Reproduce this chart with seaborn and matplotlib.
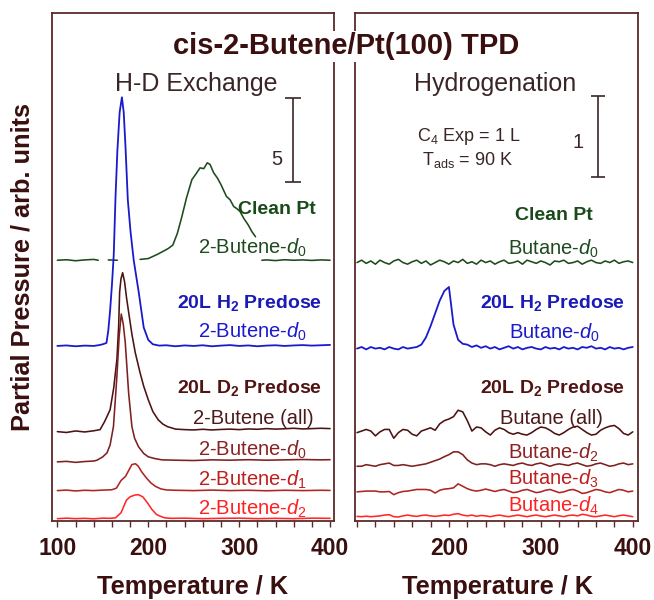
import numpy as np
import pandas as pd
import matplotlib
matplotlib.use("Agg")
import matplotlib.pyplot as plt
import seaborn as sns

# ---------------------------------------------------------------- data
# Left panel: H-D exchange (2-butene desorption), arb. units (scale bar = 5)
T_GREEN_L = [100, 110, 120, 130, 140, 145, 147, 156, 166, 168, 191, 200, 210, 217, 222,
             227, 232, 237, 242, 248, 252, 257, 261, 265, 268, 272, 276, 280, 286, 290,
             294, 298, 301, 305, 310, 314, 318, 321, 325, 330, 340, 350, 360, 370, 380,
             390, 400]
S_GREEN_L = [0.0, 0.03, -0.03, 0.02, 0.05, 0.0, np.nan, 0.02, 0.0, np.nan, 0.05, 0.1, 0.35, 0.55, 0.7,
             0.9, 1.6, 2.6, 3.7, 4.8, 5.1, 5.5, 5.45, 5.8, 5.7, 5.2, 4.9, 4.5, 3.8, 3.6,
             3.2, 3.05, 2.9, 2.5, 2.1, 1.7, 1.4, np.nan, 0.0, 0.02, -0.02, 0.03, 0.0, 0.02, -0.01,
             0.02, 0.0]

T_BLUE_L = [100, 110, 120, 130, 140, 146, 150, 154, 156, 158, 160, 162, 164, 166, 168.5,
            171, 173, 175, 177.5, 180.5, 184, 189.5, 195, 200, 205, 212, 220, 230, 240, 250,
            260, 270, 280, 290, 300, 310, 320, 330, 340, 350, 360, 370, 380, 390, 400]
S_BLUE_L = [0.0, 0.03, -0.02, 0.02, 0.0, 0.05, 0.1, 0.18, 0.9, 2.1, 3.6, 5.4, 8.9, 11.6, 13.9,
            14.8, 13.9, 11.8, 8.7, 6.8, 5.1, 3.2, 1.1, 0.36, 0.1, 0.02, 0.04, -0.02, 0.03, 0.0,
            0.04, -0.02, 0.02, 0.05, 0.0, 0.03, -0.02, 0.02, 0.04, 0.0, 0.03, 0.05, 0.02, 0.04, 0.06]

T_ALL_L = [100, 110, 120, 130, 140, 147, 152, 158, 162, 165.5, 167.4, 168.5, 170, 171.8, 174,
           176, 178, 182, 185.7, 191, 195, 200, 205, 211, 216, 221, 230, 240, 250, 260,
           270, 280, 290, 300, 310, 320, 330, 340, 350, 360, 370, 380, 390, 400]
S_ALL_L = [0.0, -0.05, 0.04, -0.02, 0.05, 0.12, 0.6, 1.3, 2.6, 4.3, 6.25, 8.3, 9.1, 9.46, 8.9,
           8.0, 7.26, 5.8, 4.7, 3.5, 2.7, 1.9, 1.2, 0.7, 0.45, 0.3, 0.15, 0.12, 0.1, 0.14,
           0.1, 0.13, 0.15, 0.12, 0.16, 0.14, 0.18, 0.15, 0.17, 0.2, 0.16, 0.18, 0.2, 0.18]

T_D0_L = [100, 110, 120, 130, 140, 143.6, 150, 154.6, 158, 161.7, 163.5, 165.5, 168, 170.3, 172.5,
          174.7, 178.4, 182, 185, 189.3, 195, 200, 207, 215, 230, 250, 270, 290, 310, 330,
          350, 370, 390, 400]
S_D0_L = [0.0, 0.03, -0.03, 0.02, 0.05, 0.1, 0.3, 0.54, 1.0, 2.1, 3.5, 5.1, 7.5, 8.8, 8.2,
          7.1, 4.1, 2.1, 1.4, 0.9, 0.5, 0.3, 0.2, 0.12, 0.1, 0.08, 0.12, 0.1, 0.13, 0.1,
          0.12, 0.14, 0.12, 0.13]

T_D1_L = [100, 110, 120, 130, 140, 150, 160, 165, 170, 175, 180, 182, 186, 189, 193,
          198, 203, 208, 214, 220, 230, 250, 270, 290, 310, 330, 350, 370, 390, 400]
S_D1_L = [0.0, 0.03, -0.02, 0.02, 0.0, 0.03, 0.05, 0.15, 0.6, 0.85, 1.35, 1.55, 1.6, 1.45, 1.1,
          0.75, 0.45, 0.25, 0.1, 0.04, 0.02, 0.0, 0.03, 0.0, 0.02, -0.01, 0.02, 0.0, 0.02, 0.01]

T_D2_L = [100, 110, 120, 130, 140, 150, 158, 164, 170, 176, 180, 185, 189, 194, 199,
          204, 209, 213, 218, 225, 240, 260, 280, 300, 320, 340, 360, 380, 400]
S_D2_L = [0.0, 0.03, 0.0, 0.02, -0.01, 0.03, 0.02, 0.05, 0.35, 1.1, 1.3, 1.4, 1.43, 1.3, 0.95,
          0.55, 0.25, 0.15, 0.05, 0.02, 0.03, 0.0, 0.02, 0.03, 0.0, 0.02, 0.0, 0.03, 0.02]

OFFSETS_L = [15.5, 10.4, 5.3, 3.5, 1.79, 0.12]   # green, blue, all, d0, d1, d2

# Right panel: hydrogenation (butane desorption), arb. units (scale bar = 1)
T_R = np.arange(100, 401, 5)
S_GREEN_R = [0.0, 0.03, -0.01, 0.02, -0.02, 0.03, 0.0, -0.02, 0.02, 0.04,
             0.0, -0.02, 0.01, 0.03, -0.01, 0.02, -0.03, 0.0, 0.03, 0.01,
             -0.02, 0.02, 0.0, 0.04, -0.01, 0.01, -0.02, 0.03, 0.0, 0.02,
             -0.02, 0.01, 0.03, -0.01, 0.0, 0.02, -0.02, 0.03, 0.01, -0.01,
             0.02, 0.0, -0.03, 0.02, 0.01, 0.03, -0.01, 0.0, 0.02, -0.02,
             0.01, 0.03, 0.0, -0.01, 0.02, 0.0, 0.03, -0.01, 0.01, 0.02, 0.0]
S_BLUE_R = [0.0, 0.02, -0.01, 0.02, 0.0, 0.01, -0.01, 0.02, 0.0, -0.01,
            0.02, 0.0, 0.01, 0.02, 0.05, 0.14, 0.28, 0.44, 0.6, 0.72,
            0.77, 0.3, 0.11, 0.06, 0.05, 0.02, 0.04, 0.01, 0.03, 0.0,
            0.02, -0.01, 0.01, 0.03, 0.0, 0.02, -0.01, 0.01, 0.02, 0.0,
            -0.01, 0.02, 0.0, 0.01, -0.01, 0.02, 0.0, 0.01, -0.01, 0.02,
            0.01, 0.03, 0.0, 0.01, -0.01, 0.02, 0.0, 0.01, -0.01, 0.01, 0.02]
S_ALL_R = [0.0, 0.02, 0.04, 0.02, -0.04, 0.01, 0.04, 0.04, -0.07, 0.0,
           0.04, 0.03, -0.02, -0.04, 0.02, 0.04, 0.06, 0.03, 0.11, 0.15,
           0.17, 0.2, 0.28, 0.26, 0.15, 0.02, 0.07, 0.06, 0.01, -0.03,
           0.03, 0.06, 0.04, 0.0, -0.02, 0.0, -0.02, -0.03, 0.0, 0.04,
           0.07, 0.06, 0.03, -0.01, -0.03, 0.0, 0.04, 0.07, 0.08, 0.04,
           0.0, -0.03, -0.02, 0.03, 0.06, 0.08, 0.09, 0.05, -0.01, -0.03, 0.01]
S_D2_R = [-0.02, -0.02, 0.0, -0.01, -0.02, 0.0, 0.01, 0.02, -0.01, -0.01,
          0.0, -0.01, -0.02, -0.01, 0.0, 0.01, 0.03, 0.05, 0.07, 0.1,
          0.125, 0.16, 0.16, 0.125, 0.06, 0.02, 0.0, 0.01, 0.01, 0.0,
          -0.02, 0.0, 0.01, 0.0, -0.01, 0.01, 0.02, 0.0, -0.01, 0.01,
          0.02, 0.0, -0.02, 0.0, 0.01, 0.0, -0.01, 0.01, 0.02, 0.0,
          -0.02, -0.01, 0.01, 0.02, 0.0, -0.02, -0.01, 0.01, 0.02, 0.0, 0.01]
S_D3_R = [0.0, 0.005, 0.01, 0.01, 0.01, 0.0, 0.0, 0.005, -0.035, -0.01,
          0.005, 0.01, 0.02, 0.03, 0.03, 0.03, 0.02, -0.015, 0.02, 0.035,
          0.04, 0.05, 0.1, 0.07, 0.04, 0.02, 0.01, 0.02, 0.035, 0.02,
          0.005, 0.02, 0.03, 0.01, -0.01, 0.0, 0.02, 0.03, 0.01, -0.01,
          0.0, 0.02, 0.03, 0.01, -0.01, 0.0, 0.02, 0.03, 0.01, -0.02,
          -0.01, 0.01, 0.03, 0.02, 0.0, -0.01, 0.01, 0.03, 0.02, 0.0, 0.01]
S_D4_R = [0.004, 0.0, 0.006, 0.0, 0.004, 0.01, 0.02, 0.025, 0.0, -0.004,
          0.01, 0.02, 0.01, 0.004, 0.015, 0.02, 0.01, 0.004, 0.01, 0.02,
          0.015, 0.03, 0.038, 0.02, 0.01, 0.02, 0.005, 0.015, 0.01, 0.0,
          0.012, 0.02, 0.008, 0.0, 0.01, 0.02, 0.01, 0.0, 0.012, 0.02,
          0.008, 0.0, 0.01, 0.02, 0.01, 0.0, 0.015, 0.02, 0.01, 0.03,
          0.02, 0.005, 0.0, 0.01, 0.02, 0.01, 0.0, 0.012, 0.02, 0.01, 0.0]

OFFSETS_R = [3.225, 2.15, 1.1, 0.7, 0.36, 0.05]   # green, blue, all, d2, d3, d4

SCALE_L = 5
SCALE_R = 1
XTICKS = [100, 200, 300, 400]
XTICKLABELS_L = ["100", "200", "300", "400"]
XTICKLABELS_R = ["", "200", "300", "400"]

# ---------------------------------------------------------------- style
GREEN = "#1e4a1e"
BLUE = "#1a1acc"
C_ALL = "#4d1212"
C_D0 = "#7f2020"
C_D1 = "#b02424"
C_D2 = "#ff2828"
FRAME = "#5a2a2a"
TXT = "#3a0f0f"
GREY = "#3a2626"

sns.set_theme(style="white")
plt.rcParams["font.family"] = ["Liberation Sans", "DejaVu Sans"]
plt.rcParams["mathtext.fontset"] = "custom"
plt.rcParams["mathtext.rm"] = "Liberation Sans"
plt.rcParams["mathtext.it"] = "Liberation Sans:italic"
plt.rcParams["mathtext.bf"] = "Liberation Sans:bold"

fig = plt.figure(figsize=(6.54, 6.0), dpi=100)
axL = fig.add_axes([0.0791, 0.1322, 0.4321, 0.8457])
axR = fig.add_axes([0.5428, 0.1322, 0.4323, 0.8457])


def trace(ax, T, sig, off, color, lw=1.15):
    y = np.asarray(sig, float) + off
    seg = np.cumsum(np.isnan(y))
    df = pd.DataFrame({"T": np.asarray(T, float), "y": y, "seg": seg}).dropna()
    sns.lineplot(data=df, x="T", y="y", units="seg", estimator=None, sort=False,
                 color=color, lw=lw, ax=ax, legend=False)


# left panel traces
trace(axL, T_GREEN_L, S_GREEN_L, OFFSETS_L[0], GREEN)
trace(axL, T_BLUE_L, S_BLUE_L, OFFSETS_L[1], BLUE, lw=1.3)
trace(axL, T_ALL_L, S_ALL_L, OFFSETS_L[2], C_ALL)
trace(axL, T_D0_L, S_D0_L, OFFSETS_L[3], C_D0)
trace(axL, T_D1_L, S_D1_L, OFFSETS_L[4], C_D1)
trace(axL, T_D2_L, S_D2_L, OFFSETS_L[5], C_D2)

# right panel traces
trace(axR, T_R, S_GREEN_R, OFFSETS_R[0], GREEN)
trace(axR, T_R, S_BLUE_R, OFFSETS_R[1], BLUE, lw=1.3)
trace(axR, T_R, S_ALL_R, OFFSETS_R[2], C_ALL)
trace(axR, T_R, S_D2_R, OFFSETS_R[3], C_D0)
trace(axR, T_R, S_D3_R, OFFSETS_R[4], C_D1)
trace(axR, T_R, S_D4_R, OFFSETS_R[5], C_D2)

for ax, xlim, ylim, labs in [(axL, (93.8, 404.7), (0, 30.2), XTICKLABELS_L),
                             (axR, (97.8, 405.4), (0, 6.34), XTICKLABELS_R)]:
    ax.set_xlim(xlim)
    ax.set_ylim(ylim)
    ax.set_xlabel("")
    ax.set_ylabel("")
    ax.set_yticks([])
    ax.set_xticks(XTICKS)
    ax.set_xticks(np.arange(100, 401, 20), minor=True)
    ax.set_xticklabels(labs, fontweight="bold")
    ax.tick_params(axis="x", which="both", bottom=True, direction="out",
                   length=4, width=1.0, color=FRAME)
    ax.tick_params(axis="x", which="major", pad=8, labelsize=16.5, labelcolor=TXT)
    for sp in ax.spines.values():
        sp.set_visible(True)
        sp.set_color(FRAME)
        sp.set_linewidth(1.3)

# scale bars
axL.errorbar([359.3], [20.18 + SCALE_L / 2], yerr=[SCALE_L / 2], color=GREY,
             capsize=6, elinewidth=1.2, capthick=1.2, fmt="none")
axR.errorbar([362.7], [4.3 + SCALE_R / 2], yerr=[SCALE_R / 2], color=GREY,
             capsize=5.2, elinewidth=1.2, capthick=1.2, fmt="none")
axL.text(341.8, 21.18, str(SCALE_L), fontsize=14.5, color=GREY, ha="center", va="baseline")
axR.text(340.7, 4.66, str(SCALE_R), fontsize=14.5, color=GREY, ha="center", va="baseline")

# panel headings
axL.text(252.4, 25.6, "H-D Exchange", fontsize=18, color=GREY, ha="center", va="baseline")
axR.text(250.7, 5.37, "Hydrogenation", fontsize=18, color=GREY, ha="center", va="baseline")
axR.text(221.4, 4.74, r"C$_4$ Exp = 1 L", fontsize=13, color=GREY, ha="center", va="baseline")
axR.text(220.0, 4.44, r"T$_\mathrm{ads}$ = 90 K", fontsize=13, color=GREY, ha="center", va="baseline")

# trace labels
def lab(ax, x, y, s, color, bold=False):
    ax.text(x, y, s, fontsize=14.5 if not bold else 14, color=color, ha="center",
            va="baseline", fontweight="bold" if bold else "normal")

lab(axL, 341.4, 18.26, "Clean Pt", "#1a4a1a", True)
lab(axL, 314.8, 15.89, r"2-Butene-$\mathit{d_0}$", GREEN)
lab(axL, 311.0, 12.66, r"20L $\mathbf{H_2}$ Predose", "#1a1ab8", True)
lab(axL, 314.8, 10.87, r"2-Butene-$\mathit{d_0}$", BLUE)
lab(axL, 311.0, 7.60, r"20L $\mathbf{D_2}$ Predose", "#501414", True)
lab(axL, 315.4, 5.77, "2-Butene (all)", "#4d1a1a")
lab(axL, 314.8, 3.87, r"2-Butene-$\mathit{d_0}$", "#8b2222")
lab(axL, 314.8, 2.08, r"2-Butene-$\mathit{d_1}$", "#c01e1e")
lab(axL, 314.8, 0.36, r"2-Butene-$\mathit{d_2}$", "#ff2020")

lab(axR, 313.9, 3.76, "Clean Pt", "#1a4a1a", True)
lab(axR, 314.0, 3.325, r"Butane-$\mathit{d_0}$", GREEN)
lab(axR, 312.5, 2.66, r"20L $\mathbf{H_2}$ Predose", "#1a1ab8", True)
lab(axR, 314.6, 2.28, r"Butane-$\mathit{d_0}$", BLUE)
lab(axR, 312.5, 1.60, r"20L $\mathbf{D_2}$ Predose", "#501414", True)
lab(axR, 311.0, 1.21, "Butane (all)", "#4d1a1a")
lab(axR, 313.6, 0.78, r"Butane-$\mathit{d_2}$", "#8b2222")
lab(axR, 313.6, 0.45, r"Butane-$\mathit{d_3}$", "#c01e1e")
lab(axR, 313.6, 0.11, r"Butane-$\mathit{d_4}$", "#ff2020")

# figure-level texts
fig.text(0.5289, 0.9095, "cis-2-Butene/Pt(100) TPD", fontsize=21, fontweight="bold",
         color=TXT, ha="center", va="baseline",
         bbox=dict(boxstyle="square,pad=0.06", facecolor="white", edgecolor="none"))
fig.text(0.0349, 0.5555, "Partial Pressure / arb. units", fontsize=18.3, fontweight="bold",
         color=TXT, rotation=90, ha="center", va="center")
fig.text(192.5 / 654, 0.0095, "Temperature / K", fontsize=18.3, fontweight="bold",
         color=TXT, ha="center", va="baseline")
fig.text(497.5 / 654, 0.0095, "Temperature / K", fontsize=18.3, fontweight="bold",
         color=TXT, ha="center", va="baseline")

fig.savefig("out.png", dpi=100, facecolor="white")
